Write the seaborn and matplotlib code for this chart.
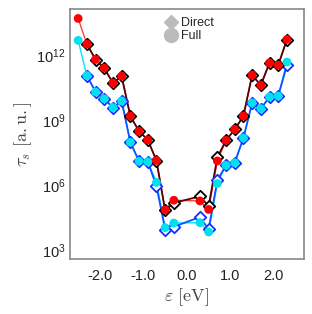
import numpy as np
import pandas as pd
import matplotlib
matplotlib.use("Agg")
import matplotlib.pyplot as plt
import seaborn as sns
from matplotlib.lines import Line2D
from matplotlib.ticker import NullLocator, FixedLocator

# ---- data (log10 of tau_s) ----
energy_full = [-2.5, -2.3, -2.1, -1.9, -1.7, -1.5, -1.3, -1.1, -0.9, -0.7, -0.5, -0.3,
               0.3, 0.5, 0.7, 0.9, 1.1, 1.3, 1.5, 1.7, 1.9, 2.1, 2.3]
energy_direct = [-2.3, -2.1, -1.9, -1.7, -1.5, -1.3, -1.1, -0.9, -0.7, -0.5, -0.3,
                 0.3, 0.5, 0.7, 0.9, 1.1, 1.3, 1.5, 1.7, 1.9, 2.1, 2.3]

full_upper = [13.69, 12.51, 11.80, 11.40, 10.72, 11.03, 9.19, 8.50, 8.10, 7.15, 4.88, 5.32,
              5.29, 4.90, 7.13, 8.08, 8.58, 9.20, 11.08, 10.62, 11.65, 11.54, 12.72]
direct_upper = [12.51, 11.80, 11.40, 10.72, 11.03, 9.19, 8.50, 8.10, 7.15, 4.85, 5.20,
                5.50, 5.05, 7.30, 8.08, 8.58, 9.20, 11.08, 10.62, 11.65, 11.54, 12.72]
full_lower = [12.68, 11.06, 10.31, 9.99, 9.59, 9.89, 7.99, 7.12, 7.10, 6.14, 4.06, 4.27,
              4.29, 3.86, 6.09, 6.93, 7.05, 8.19, 9.80, 9.54, 10.08, 10.12, 11.68]
direct_lower = [11.06, 10.31, 9.99, 9.59, 9.89, 7.99, 7.12, 7.10, 5.98, 3.97, 4.10,
                4.55, 3.98, 6.24, 6.93, 7.05, 8.19, 9.80, 9.54, 10.08, 10.12, 11.54]

xtick_vals = [-2.0, -1.0, 0.0, 1.0, 2.0]
xtick_labels = ["-2.0", "-1.0", "0.0", "1.0", "2.0"]
ytick_vals = [1e3, 1e6, 1e9, 1e12]
ytick_labels = [r"$\mathregular{10^{3}}$", r"$\mathregular{10^{6}}$",
                r"$\mathregular{10^{9}}$", r"$\mathregular{10^{12}}$"]

sns.set_theme(style="white")
plt.rcParams["font.family"] = ["Liberation Sans", "DejaVu Sans"]
plt.rcParams["mathtext.fontset"] = "cm"

fig = plt.figure(figsize=(3.12, 3.14), dpi=100)
ax = fig.add_axes([0.224, 0.174, 0.75, 0.797])

def df(x, y):
    return pd.DataFrame({"e": x, "tau": 10.0 ** np.array(y)})

d_fu, d_du = df(energy_full, full_upper), df(energy_direct, direct_upper)
d_fl, d_dl = df(energy_full, full_lower), df(energy_direct, direct_lower)

# lines
sns.lineplot(data=d_fl, x="e", y="tau", color="#00e5ff", lw=1.0, ax=ax, zorder=1, sort=False)
sns.lineplot(data=d_fu, x="e", y="tau", color="#ff4040", lw=1.0, ax=ax, zorder=1, sort=False)
sns.lineplot(data=d_dl, x="e", y="tau", color="#1050ff", lw=1.3, ax=ax, zorder=2, sort=False)
sns.lineplot(data=d_du, x="e", y="tau", color="#5a0000", lw=1.3, ax=ax, zorder=2, sort=False)

# direct markers (open diamonds)
sns.scatterplot(data=d_dl, x="e", y="tau", marker="D", s=34, facecolor="white",
                edgecolor="#1030ff", linewidth=1.3, ax=ax, zorder=3)
sns.scatterplot(data=d_du, x="e", y="tau", marker="D", s=34, facecolor="white",
                edgecolor="black", linewidth=1.3, ax=ax, zorder=3)
# full markers (filled circles)
sns.scatterplot(data=d_fl, x="e", y="tau", marker="o", s=40, color="#00e0f0",
                edgecolor="none", ax=ax, zorder=4)
sns.scatterplot(data=d_fu, x="e", y="tau", marker="o", s=40, color="#ff0000",
                edgecolor="none", ax=ax, zorder=4)

ax.set_yscale("log")
ax.set_xlim(-2.69, 2.69)
ax.set_ylim(10 ** 2.6, 10 ** 14.12)
ax.yaxis.set_major_locator(FixedLocator(ytick_vals))
ax.yaxis.set_minor_locator(NullLocator())
ax.set_yticklabels(ytick_labels)
ax.set_xticks(xtick_vals)
ax.set_xticklabels(xtick_labels)

for s in ax.spines.values():
    s.set_visible(True)
    s.set_color("#888888")
    s.set_linewidth(1.2)
ax.tick_params(axis="both", direction="in", length=4, width=1.0, color="#888888",
               labelsize=10.5, labelcolor="#222222")
ax.tick_params(axis="x", pad=7)
ax.tick_params(axis="y", pad=3)

ax.set_xlabel(r"$\varepsilon\ [\mathrm{eV}]$", fontsize=13, color="#444444", labelpad=2)
ax.set_ylabel(r"$\tau_s\ [\mathrm{a.u.}]$", fontsize=13, color="#444444", labelpad=2)

handles = [Line2D([], [], marker="D", ls="none", color="#bbbbbb", markersize=7),
           Line2D([], [], marker="o", ls="none", color="#bbbbbb", markersize=10)]
ax.legend(handles, ["Direct", "Full"], loc="upper left", bbox_to_anchor=(0.37, 1.0),
          frameon=False, fontsize=9, handletextpad=0.25, labelspacing=0.1,
          handlelength=1.1, borderaxespad=0.25)

fig.savefig("out.png", dpi=100)
